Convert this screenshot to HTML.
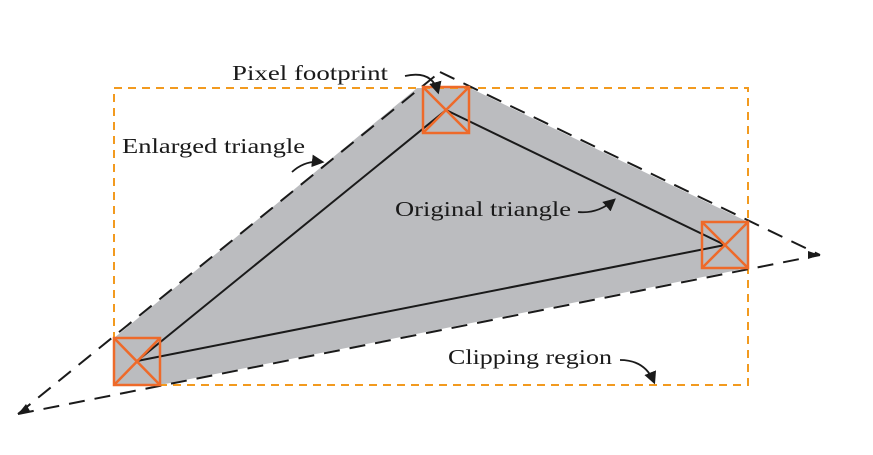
<!DOCTYPE html>
<html><head><meta charset="utf-8"><style>
html,body{margin:0;padding:0;background:#fff;}
svg{display:block}
text{font-family:"Liberation Serif",serif;font-size:21px;fill:#1a1a1a}
</style></head><body>
<svg width="873" height="455" viewBox="0 0 873 455">
<defs><marker id="ah" viewBox="0 0 10 10" refX="8" refY="5" markerWidth="7" markerHeight="7" orient="auto"><path d="M0,0 L10,5 L0,10 z" fill="#1a1a1a"/></marker></defs>
<polygon points="114,338 417,88 470,88 748,222 748,268 160,385 114,385" fill="#bbbcbf"/>
<rect x="114" y="88" width="634" height="297" fill="none" stroke="#f29a1f" stroke-width="2" stroke-dasharray="8,6"/>
<g stroke="#1a1a1a" stroke-width="2" fill="none" stroke-dasharray="16,10">
<line x1="18" y1="414" x2="440" y2="72"/>
<line x1="440" y1="72" x2="820" y2="255"/>
<line x1="18" y1="414" x2="820" y2="255"/>
</g>
<polygon points="18,414 30,411 26,404" fill="#1a1a1a"/>
<polygon points="820,255 808,251 808,259" fill="#1a1a1a"/>
<g stroke="#1a1a1a" stroke-width="2">
<line x1="137" y1="361" x2="446" y2="110"/>
<line x1="446" y1="110" x2="725" y2="245"/>
<line x1="137" y1="361" x2="725" y2="245"/>
</g>
<g stroke="#ee6a2a" stroke-width="2.5" fill="none">
<rect x="114" y="338" width="46" height="47"/><line x1="114" y1="338" x2="160" y2="385"/><line x1="160" y1="338" x2="114" y2="385"/>
<rect x="423" y="87" width="46" height="46"/><line x1="423" y1="87" x2="469" y2="133"/><line x1="469" y1="87" x2="423" y2="133"/>
<rect x="702" y="222" width="46" height="46"/><line x1="702" y1="222" x2="748" y2="268"/><line x1="748" y1="222" x2="702" y2="268"/>
</g>
<g stroke="#1a1a1a" stroke-width="1.8" fill="none" marker-end="url(#ah)">
<path d="M405,76 Q432,70 438,92"/>
<path d="M292,172 Q305,160 322,162"/>
<path d="M578,212 Q598,214 614,200"/>
<path d="M620,360 Q645,360 654,382"/>
</g>
<text x="232" y="80" textLength="156" lengthAdjust="spacingAndGlyphs">Pixel footprint</text>
<text x="122" y="153" textLength="183" lengthAdjust="spacingAndGlyphs">Enlarged triangle</text>
<text x="395" y="216" textLength="176" lengthAdjust="spacingAndGlyphs">Original triangle</text>
<text x="448" y="364" textLength="164" lengthAdjust="spacingAndGlyphs">Clipping region</text>
</svg>
</body></html>
